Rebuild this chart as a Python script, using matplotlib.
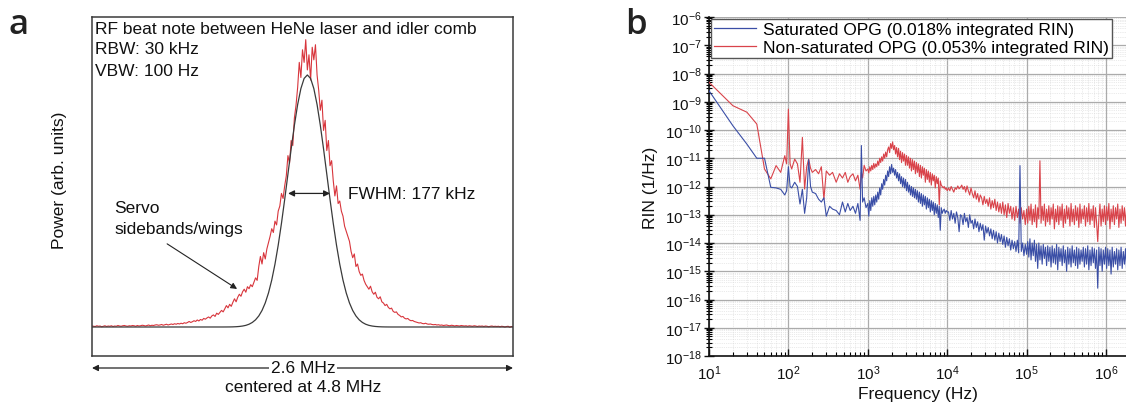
import numpy as np
import matplotlib
matplotlib.use("Agg")
import matplotlib.pyplot as plt
from matplotlib.ticker import LogLocator, LogFormatterMathtext, NullFormatter

plt.rcParams['font.family'] = ['Liberation Sans', 'DejaVu Sans']
plt.rcParams['mathtext.default'] = 'regular'

# ---------------- Panel a data: RF beat note (offset from 4.8 MHz, kHz) ----------------
beat_x = np.arange(-1300, 1301, 10)   # spectrum analyser sampling grid (kHz)
beat_red = [
    0.004, 0.003, 0.002, 0.005, 0.003, 0.004, 0.001, 0.003, 0.005, 0.002,
    0.004, 0.003, 0.005, 0.002, 0.004, 0.003, 0.006, 0.004, 0.003, 0.005,
    0.006, 0.004, 0.003, 0.005, 0.004, 0.006, 0.005, 0.003, 0.006, 0.004,
    0.005, 0.007, 0.006, 0.004, 0.006, 0.008, 0.005, 0.007, 0.006, 0.008,
    0.009, 0.007, 0.008, 0.010, 0.007, 0.009, 0.011, 0.008, 0.010, 0.012,
    0.010, 0.013, 0.011, 0.014, 0.012, 0.015, 0.013, 0.017, 0.015, 0.018,
    0.022, 0.018, 0.021, 0.025, 0.022, 0.028, 0.024, 0.030, 0.027, 0.034,
    0.031, 0.036, 0.040, 0.035, 0.044, 0.048, 0.042, 0.055, 0.050, 0.058,
    0.066, 0.060, 0.072, 0.085, 0.076, 0.090, 0.082, 0.098, 0.112, 0.100,
    0.118, 0.130, 0.122, 0.140, 0.150, 0.138, 0.160, 0.152, 0.168, 0.160,
    0.178, 0.195, 0.185, 0.240, 0.280, 0.250, 0.295, 0.270, 0.310, 0.335,
    0.360, 0.390, 0.375, 0.420, 0.405, 0.460, 0.480, 0.530, 0.510, 0.560,
    0.600, 0.680, 0.650, 0.740, 0.720, 0.830, 0.880, 0.950, 1.050, 0.990,
    1.100, 1.050, 1.140, 1.020, 1.080, 0.980, 1.110, 1.060, 1.120, 1.000,
    0.940, 0.860, 0.900, 0.780, 0.820, 0.700, 0.740, 0.640, 0.660, 0.580,
    0.520, 0.560, 0.490, 0.500, 0.460, 0.440, 0.400, 0.380, 0.360, 0.340,
    0.300, 0.275, 0.290, 0.240, 0.250, 0.220, 0.205, 0.210, 0.185, 0.170,
    0.160, 0.150, 0.162, 0.140, 0.130, 0.138, 0.118, 0.112, 0.120, 0.100,
    0.095, 0.085, 0.090, 0.078, 0.072, 0.075, 0.062, 0.058, 0.060, 0.050,
    0.046, 0.040, 0.042, 0.035, 0.032, 0.034, 0.028, 0.025, 0.026, 0.022,
    0.020, 0.018, 0.016, 0.017, 0.014, 0.013, 0.015, 0.012, 0.011, 0.012,
    0.010, 0.009, 0.010, 0.008, 0.009, 0.007, 0.008, 0.006, 0.007, 0.008,
    0.006, 0.005, 0.007, 0.006, 0.004, 0.006, 0.005, 0.004, 0.006, 0.005,
    0.004, 0.005, 0.003, 0.005, 0.004, 0.003, 0.005, 0.004, 0.002, 0.004,
    0.003, 0.004, 0.002, 0.004, 0.003, 0.001, 0.003, 0.004, 0.002, 0.003,
    0.002, 0.003, 0.001, 0.003, 0.002, 0.000, 0.002, 0.003, -0.001, 0.002,
    0.001,
]
fit_x = [-1300] + list(range(-490, 551, 20)) + [1300]
fit_y = [0.0,
         0.0001, 0.0002, 0.0003, 0.0006, 0.0012, 0.0022, 0.0039, 0.0066, 0.0111,
         0.0181, 0.0286, 0.0439, 0.0657, 0.0956, 0.1353, 0.1862, 0.2494, 0.3247,
         0.4111, 0.5062, 0.6065, 0.7066, 0.8007, 0.8825, 0.9460, 0.9862,
         1.0,
         0.9862, 0.9460, 0.8825, 0.8007, 0.7066, 0.6065, 0.5062, 0.4111, 0.3247,
         0.2494, 0.1862, 0.1353, 0.0956, 0.0657, 0.0439, 0.0286, 0.0181, 0.0111,
         0.0066, 0.0039, 0.0022, 0.0012, 0.0006, 0.0003, 0.0002, 0.0001,
         0.0]
fwhm_left, fwhm_right, fwhm_level = -89, 170, 0.53

# ---------------- Panel b data: RIN spectra (log10 of RIN, 1/Hz) ----------------
f_low = [10, 20, 30, 40, 50, 60, 70, 80, 90, 95, 100, 105, 110, 120, 130, 140, 150,
         160, 170, 180, 190, 200, 220, 240, 260, 280, 300, 330, 360, 400, 440, 480,
         520, 560, 600, 650, 700, 750, 800, 830, 860, 900, 950]
freq = np.concatenate([f_low,
                       np.logspace(3, 4, 81),
                       np.logspace(4, 5, 61)[1:],
                       np.logspace(5, 6.26, 91)[1:]])

rin_nonsat_log = [
    # 10 Hz - 1 kHz
    -8.31, -9.14, -9.37, -9.79, -11.38, -11.73, -11.26, -11.50, -10.91, -11.20,
    -9.26, -11.20, -11.38, -11.03, -11.20, -11.85, -10.26, -12.09, -11.30, -11.03,
    -11.35, -11.50, -11.40, -11.55, -11.30, -12.45, -11.45, -11.60, -11.50, -11.85,
    -11.55, -11.70, -11.50, -11.85, -11.65, -11.55, -11.80, -11.60, -12.10, -11.50,
    -11.70, -11.25, -11.45,
    # 1 kHz - 10 kHz
    -11.38, -11.52, -11.30, -11.45, -11.25, -11.40, -11.18, -11.35, -11.20, -11.30,
    -11.10, -11.25, -11.00, -11.15, -10.95, -11.10, -10.85, -11.00, -10.78, -10.95,
    -10.70, -10.60, -10.80, -10.48, -10.65, -10.42, -10.70, -10.55, -10.85, -10.62,
    -10.95, -10.65, -11.05, -10.75, -11.15, -10.80, -11.10, -10.85, -11.25, -10.90,
    -11.25, -10.95, -11.35, -11.00, -11.45, -11.05, -11.40, -11.10, -11.55, -11.15,
    -11.50, -11.20, -11.65, -11.25, -11.70, -11.30, -11.60, -11.35, -11.85, -11.40,
    -11.75, -11.45, -11.85, -11.50, -11.95, -11.55, -11.80, -11.60, -12.05, -11.65,
    -11.90, -11.70, -12.65, -11.80, -11.95, -12.00, -12.05, -12.00, -12.10, -12.05,
    -12.15,
    # 10 kHz - 100 kHz
    -12.05, -12.15, -12.00, -12.10, -12.20, -12.05, -12.10, -11.98, -12.08, -12.03,
    -11.95, -12.10, -12.00, -12.20, -11.98, -12.15, -12.30, -12.05, -12.25, -12.40,
    -12.15, -12.45, -12.25, -12.55, -12.30, -12.40, -12.65, -12.35, -12.60, -12.45,
    -12.70, -12.40, -12.80, -12.50, -12.75, -12.45, -12.85, -12.55, -12.90, -12.60,
    -12.95, -12.55, -13.00, -12.65, -13.10, -12.60, -12.95, -12.70, -13.15, -12.75,
    -13.20, -12.70, -13.10, -12.80, -13.30, -12.75, -13.15, -12.85, -13.35, -12.80,
    # 100 kHz - 1.8 MHz
    -13.30, -12.70, -13.20, -12.62, -13.35, -12.80, -13.25, -12.65, -13.45, -12.75,
    -13.15, -11.09, -13.30, -12.70, -13.20, -12.62, -13.40, -12.80, -13.25, -12.68,
    -13.35, -12.75, -13.15, -12.62, -13.50, -12.80, -13.25, -12.68, -13.35, -12.72,
    -13.20, -12.62, -13.45, -12.80, -13.30, -12.68, -13.15, -12.75, -13.40, -12.60,
    -13.25, -12.80, -13.35, -12.68, -13.20, -12.75, -13.45, -12.62, -13.30, -12.80,
    -13.15, -12.68, -13.40, -12.75, -13.25, -12.60, -13.35, -12.80, -13.20, -12.68,
    -13.45, -12.75, -13.30, -13.95, -13.15, -12.62, -13.40, -12.80, -13.25, -12.68,
    -13.35, -12.72, -13.20, -12.60, -13.50, -12.80, -13.25, -12.68, -13.35, -12.75,
    -13.15, -12.62, -13.45, -12.80, -13.30, -12.68, -13.20, -12.75, -13.40, -12.68,
]

rin_sat_log = [
    # 10 Hz - 1 kHz
    -8.61, -9.85, -10.50, -11.00, -11.00, -12.03, -12.05, -12.10, -12.30, -12.15,
    -11.30, -12.00, -12.05, -11.85, -12.00, -12.62, -12.10, -12.95, -12.40, -11.05,
    -12.00, -12.20, -12.25, -12.45, -12.55, -12.40, -13.05, -12.70, -12.80, -12.85,
    -13.00, -12.55, -12.90, -12.60, -12.85, -12.70, -12.95, -12.60, -13.20, -10.55,
    -12.55, -12.40, -12.75,
    # 1 kHz - 10 kHz
    -12.60, -13.05, -12.50, -12.85, -12.40, -12.70, -12.35, -12.65, -12.30, -12.55,
    -12.20, -12.45, -12.05, -12.30, -11.90, -12.10, -11.75, -11.95, -11.60, -11.80,
    -11.45, -11.65, -11.30, -11.55, -11.22, -11.50, -11.35, -11.60, -11.40, -11.70,
    -11.50, -11.80, -11.55, -11.90, -11.65, -12.00, -11.70, -12.05, -11.75, -12.15,
    -11.85, -12.20, -11.95, -12.30, -12.00, -12.35, -12.05, -12.40, -12.10, -12.45,
    -12.15, -12.55, -12.20, -12.60, -12.25, -12.70, -12.30, -12.65, -12.35, -12.80,
    -12.40, -12.75, -12.45, -12.90, -12.50, -12.85, -12.55, -13.00, -12.60, -12.95,
    -12.65, -13.10, -12.70, -13.55, -12.75, -12.95, -12.85, -12.80, -12.95, -12.85,
    -12.90,
    # 10 kHz - 100 kHz
    -12.90, -13.20, -12.85, -13.15, -12.95, -13.30, -12.90, -13.10, -13.60, -13.00,
    -13.05, -13.35, -12.95, -13.25, -13.10, -13.45, -13.00, -13.30, -13.20, -13.50,
    -13.15, -13.45, -13.25, -13.60, -13.30, -13.55, -13.35, -13.90, -13.40, -13.65,
    -13.45, -13.75, -13.50, -13.85, -13.55, -13.90, -13.60, -14.00, -13.65, -13.95,
    -13.70, -14.05, -13.75, -14.15, -13.80, -14.10, -13.85, -14.25, -13.90, -14.20,
    -13.95, -14.30, -13.90, -14.35, -11.26, -14.30, -14.00, -14.45, -14.05, -14.40,
    # 100 kHz - 1.8 MHz
    -13.95, -14.50, -13.85, -14.60, -14.00, -14.45, -13.90, -14.65, -14.05, -14.90,
    -14.00, -14.60, -14.10, -14.75, -14.05, -14.55, -14.15, -14.80, -14.10, -14.65,
    -14.15, -14.85, -14.10, -14.70, -14.20, -14.75, -14.05, -14.95, -14.15, -14.65,
    -14.20, -14.80, -14.10, -14.70, -14.25, -15.00, -14.15, -14.75, -14.20, -14.85,
    -14.10, -14.70, -14.25, -14.80, -14.15, -14.90, -14.20, -14.75, -14.25, -14.65,
    -14.15, -14.85, -14.20, -14.75, -14.10, -14.95, -14.25, -14.80, -14.15, -14.70,
    -14.20, -14.90, -14.25, -15.60, -14.15, -14.80, -14.20, -15.00, -14.25, -14.75,
    -14.15, -14.90, -14.20, -14.80, -14.25, -15.10, -14.15, -14.85, -14.30, -14.75,
    -14.20, -14.95, -14.25, -14.80, -14.15, -14.90, -14.30, -14.75, -14.20, -15.00,
]

labels_b = ["Saturated OPG (0.018% integrated RIN)",
            "Non-saturated OPG (0.053% integrated RIN)"]

# ---------------- Figure ----------------
W, H = 1126, 414
fig = plt.figure(figsize=(W / 100, H / 100), dpi=100)


def fx(x):
    return x / W


def fy(y):
    return 1 - y / H


RED_A = '#d8353c'
TXT = '#111111'
# Panel a
axa = fig.add_axes([fx(92), fy(357), 421 / W, 339 / H])
axa.plot(beat_x, beat_red, color=RED_A, lw=0.8, zorder=2)
axa.plot(fit_x, fit_y, color='#3a3a3a', lw=0.9, zorder=3)
axa.set_xlim(-1300, 1300)
axa.set_ylim(-0.115, 1.23)
axa.set_xticks([])
axa.set_yticks([])
for s in axa.spines.values():
    s.set_color('#3a3a3a')
    s.set_linewidth(1.1)

fs_a = 12.5
fig.text(fx(95), fy(29), "RF beat note between HeNe laser and idler comb",
         fontsize=fs_a, va='center', ha='left', color=TXT)
fig.text(fx(95), fy(50), "RBW: 30 kHz", fontsize=fs_a, va='center', ha='left', color=TXT)
fig.text(fx(95), fy(71), "VBW: 100 Hz", fontsize=fs_a, va='center', ha='left', color=TXT)
fig.text(fx(114), fy(209), "Servo", fontsize=fs_a, va='center', ha='left', color=TXT)
fig.text(fx(114), fy(230), "sidebands/wings", fontsize=fs_a, va='center', ha='left', color=TXT)
fig.text(fx(348), fy(195), "FWHM: 177 kHz", fontsize=fs_a, va='center', ha='left', color=TXT)
fig.text(fx(60), fy(180), "Power (arb. units)", fontsize=fs_a, va='center', ha='center',
         rotation=90, color=TXT)

axa.annotate("", xy=(fwhm_left, fwhm_level), xytext=(fwhm_right, fwhm_level),
             arrowprops=dict(arrowstyle='<|-|>', color='#222', lw=0.9,
                             mutation_scale=9, shrinkA=0, shrinkB=0))
axa.annotate("", xy=(-404, 0.151), xytext=(-836, 0.33),
             arrowprops=dict(arrowstyle='-|>', color='#222', lw=0.8,
                             mutation_scale=9, shrinkA=0, shrinkB=0))

# span arrow below panel a
fig.patches.append(matplotlib.patches.FancyArrowPatch(
    (fx(92), fy(369)), (fx(513), fy(369)), transform=fig.transFigure,
    arrowstyle='<|-|>', mutation_scale=9, color='#222', lw=0.9,
    shrinkA=0, shrinkB=0))
fig.text(fx(303), fy(369), "2.6 MHz", fontsize=fs_a, va='center', ha='center',
         color=TXT, bbox=dict(facecolor='white', edgecolor='none', pad=1.0))
fig.text(fx(303), fy(388), "centered at 4.8 MHz", fontsize=fs_a, va='center',
         ha='center', color=TXT)

# Panel labels
fig.text(fx(8), fy(25), "a", fontsize=25, fontweight='semibold',
         family=['Open Sans', 'DejaVu Sans'], va='center', ha='left', color='#222')
fig.text(fx(625), fy(25), "b", fontsize=25, fontweight='semibold',
         family=['Open Sans', 'DejaVu Sans'], va='center', ha='left', color='#222')

# Panel b
axb = fig.add_axes([fx(709), fy(357), 417 / W, 339 / H])
RED_B = '#d9434a'
BLUE_B = '#3a4ea6'
l_red, = axb.plot(freq, 10.0 ** np.array(rin_nonsat_log), color=RED_B, lw=0.8, zorder=3)
l_blue, = axb.plot(freq, 10.0 ** np.array(rin_sat_log), color=BLUE_B, lw=0.8, zorder=4)
axb.set_xscale('log')
axb.set_yscale('log')
axb.set_xlim(10, 10 ** 6.252)
axb.set_ylim(1e-18, 1e-6)

axb.yaxis.set_major_locator(LogLocator(base=10, numticks=20))
axb.yaxis.set_minor_locator(LogLocator(base=10, subs=np.arange(2, 10), numticks=200))
axb.yaxis.set_major_formatter(LogFormatterMathtext())
axb.yaxis.set_minor_formatter(NullFormatter())
axb.xaxis.set_major_locator(LogLocator(base=10, numticks=20))
axb.xaxis.set_minor_locator(LogLocator(base=10, subs=np.arange(2, 10), numticks=200))
axb.xaxis.set_major_formatter(LogFormatterMathtext())
axb.xaxis.set_minor_formatter(NullFormatter())

axb.grid(which='major', color='#ababab', lw=0.9, zorder=0)
axb.grid(which='minor', color='#d6d6d6', lw=0.5, ls=':', zorder=0)
axb.set_axisbelow(True)

axb.tick_params(axis='y', which='major', direction='inout', length=7, width=1.0,
                labelsize=11, pad=2, colors=TXT)
axb.tick_params(axis='y', which='minor', direction='inout', length=4, width=0.8)
axb.tick_params(axis='x', which='major', direction='in', length=5, width=1.0,
                labelsize=11, pad=5, colors=TXT)
axb.tick_params(axis='x', which='minor', direction='in', length=3, width=0.8)
for side in ('top', 'right'):
    axb.spines[side].set_visible(False)
for side in ('left', 'bottom'):
    axb.spines[side].set_color(TXT)
    axb.spines[side].set_linewidth(1.2)

axb.set_xlabel("Frequency (Hz)", fontsize=12.5, labelpad=3, color=TXT)
axb.set_ylabel("RIN (1/Hz)", fontsize=12.5, labelpad=5, color=TXT)

leg = axb.legend([l_blue, l_red], labels_b, loc='upper left', fontsize=12.5,
                 frameon=True, fancybox=False, edgecolor='#555', framealpha=1,
                 handlelength=2.4, handletextpad=0.4, borderpad=0.2,
                 labelspacing=0.12, borderaxespad=0.1)
leg.get_frame().set_linewidth(1.0)
for h in leg.get_lines():
    h.set_linewidth(0.9)

fig.savefig("out.png", dpi=100)
